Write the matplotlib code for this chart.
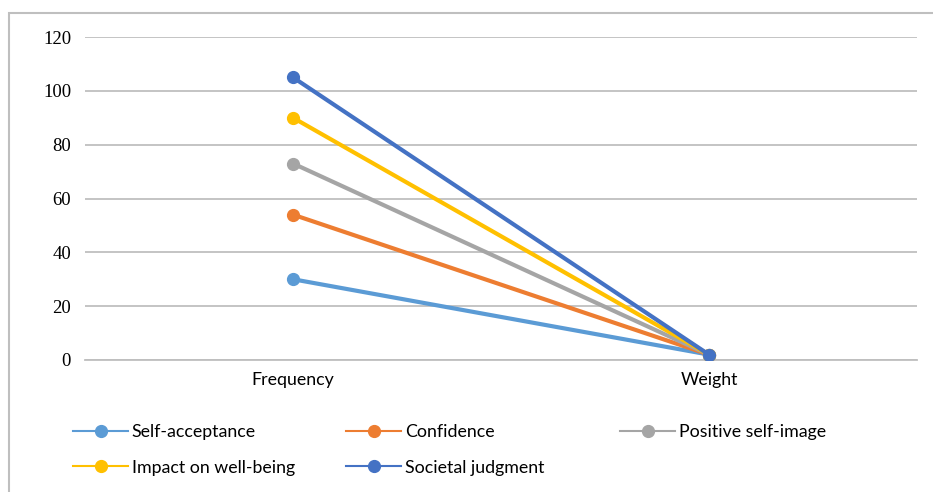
import matplotlib
matplotlib.use("Agg")
import matplotlib.pyplot as plt
import matplotlib.patches as patches
from matplotlib.lines import Line2D

categories = ["Frequency", "Weight"]
series_names = ["Self-acceptance", "Confidence", "Positive self-image",
                "Impact on well-being", "Societal judgment"]
self_acceptance = [30, 2]
confidence = [54, 2]
positive_self_image = [73, 2]
impact_well_being = [90, 2]
societal_judgment = [105, 2]
y_ticks = [0, 20, 40, 60, 80, 100, 120]

colors = ["#5B9BD5", "#ED7D31", "#A5A5A5", "#FFC000", "#4472C4"]
values = [self_acceptance, confidence, positive_self_image,
          impact_well_being, societal_judgment]

W, H = 933, 492
fig = plt.figure(figsize=(W / 100, H / 100), dpi=100)

# outer chart border (cut off at right and bottom like the source)
border = patches.Rectangle((9 / W, -0.05), 1.2, 1.05 - 13 / H,
                           transform=fig.transFigure, fill=False,
                           edgecolor="#bfbfbf", linewidth=1.5)
fig.patches.append(border)

ax = fig.add_axes([85 / W, 132 / H, (917 - 85) / W, (360 - 37) / H])
x = list(range(len(categories)))
for name, vals, c in zip(series_names, values, colors):
    ax.plot(x, vals, color=c, linewidth=3.0, marker="o", markersize=8.5,
            solid_capstyle="round", label=name, zorder=3)

ax.set_xlim(-0.5, 1.5)
ax.set_ylim(0, 120)
ax.set_yticks(y_ticks)
ax.set_yticklabels([str(v) for v in y_ticks], family="Liberation Serif",
                   fontsize=13.5)
ax.set_xticks(x)
ax.set_xticklabels(categories, family="Lato", fontsize=12.8)
ax.tick_params(axis="y", length=0, pad=10)
ax.tick_params(axis="x", length=0, pad=9)
ax.grid(axis="y", color="#bfbfbf", linewidth=1.3)
ax.set_axisbelow(True)
for s in ["top", "left", "right"]:
    ax.spines[s].set_visible(False)
ax.spines["bottom"].set_color("#bfbfbf")
ax.spines["bottom"].set_linewidth(1.3)

# legend in three columns, Excel-style ordering
def handle(i):
    return Line2D([], [], color=colors[i], linewidth=1.5, marker="o",
                  markersize=8.5, label=series_names[i])

cols = [[0, 3], [1, 4], [2]]
col_x = [73, 346, 620]
for idx, cx in zip(cols, col_x):
    leg = fig.legend(handles=[handle(i) for i in idx], loc="upper left",
                     bbox_to_anchor=(cx / W, 1 - 424 / H), frameon=False,
                     prop={"family": "Lato", "size": 12.8},
                     handlelength=3.1, handletextpad=0.2, labelspacing=1.1,
                     borderpad=0, borderaxespad=0)

fig.savefig("out.png", dpi=100)
